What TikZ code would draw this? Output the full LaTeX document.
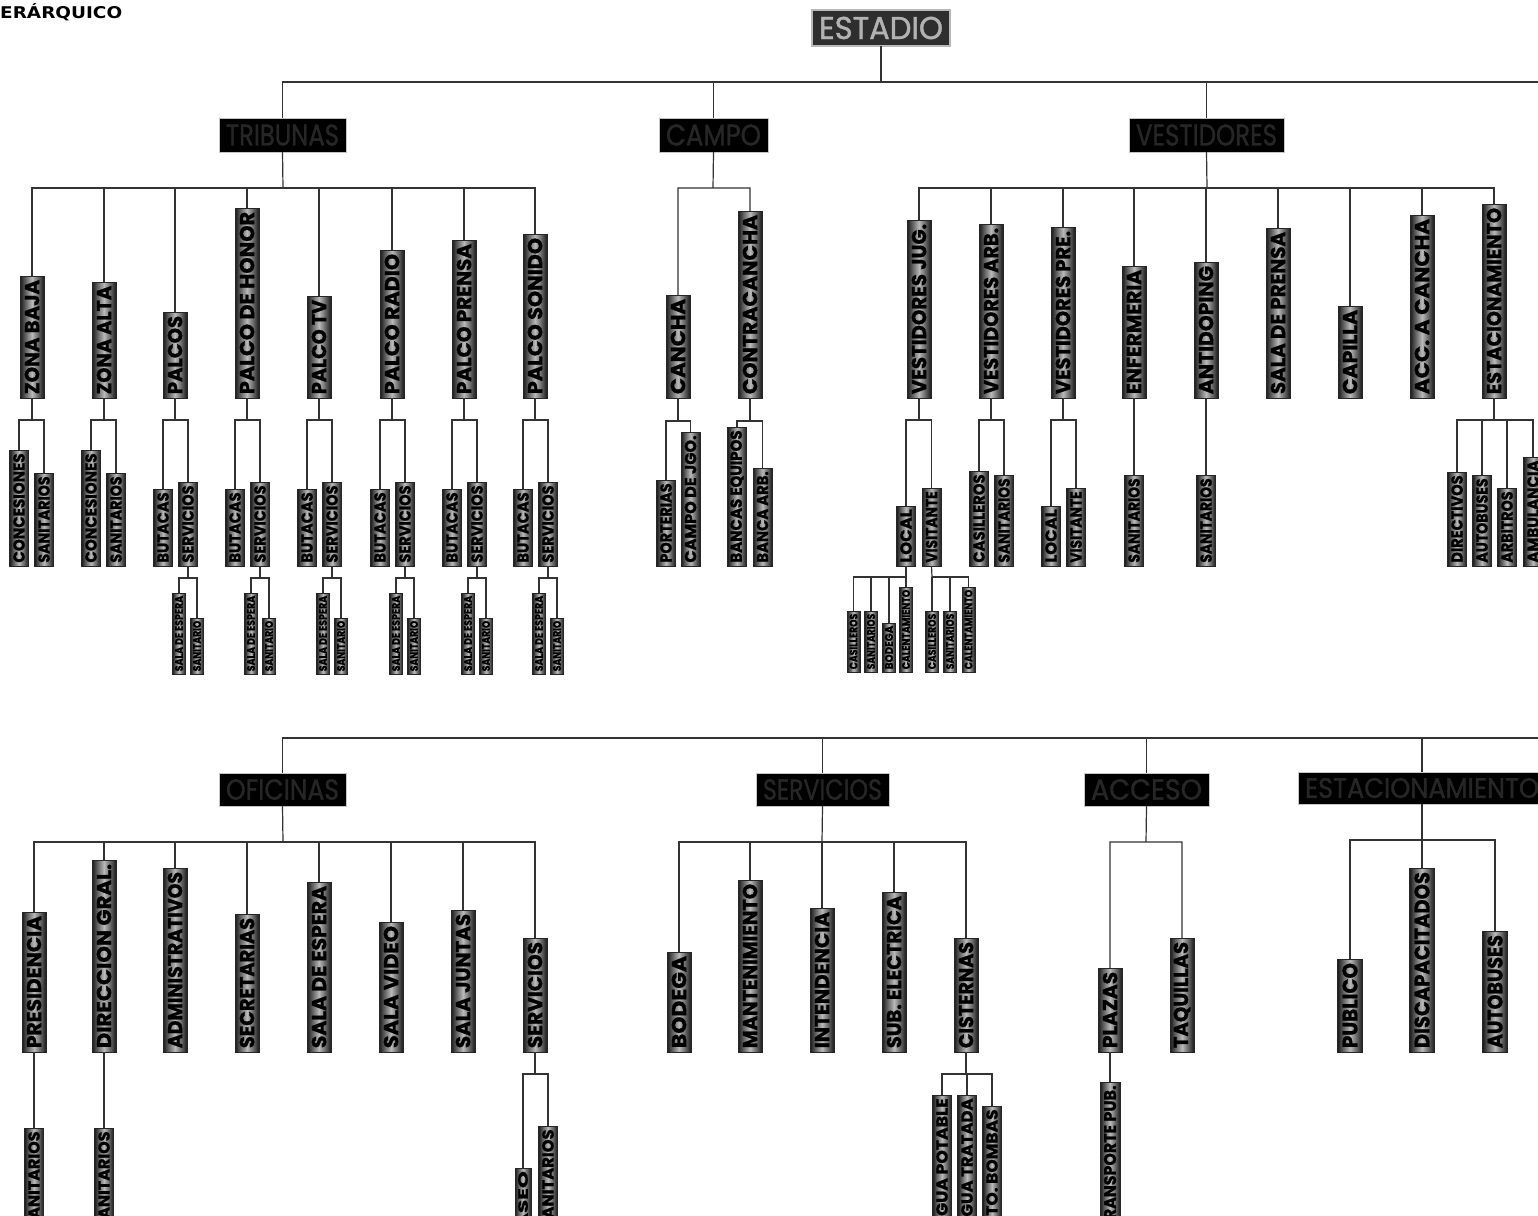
\documentclass[tikz,border=0pt]{standalone}
\usepackage{fontspec}
\setmainfont{Poppins}[FakeBold=1.2]
\newfontfamily\titlefont{DejaVu Sans}
\usepackage{graphicx}
\tikzset{
  conn/.style={draw=black!80, line width=1.2pt},
  vb/.style={rotate=90, inner sep=0pt, outer sep=0pt, draw=black!85, line width=0.6pt,
    left color=black!90, right color=black!90, middle color=gray!55, text=black, font=\bfseries},
  hb/.style={inner sep=0pt, outer sep=0pt, fill=black, draw=gray!45, line width=0.8pt, text=gray!30!black},
}
\newcommand{\vn}[6]{%
  \pgfmathsetmacro{\vncy}{(#3+#4)/2}%
  \pgfmathsetmacro{\vnlen}{#4-#3}%
  \pgfmathsetmacro{\vntl}{#4-#3-0.2*#5-3}%
  \pgfmathsetmacro{\vnth}{0.6*#5}%
  \node[vb, minimum width=\vnlen pt, minimum height=#5 pt] (#1) at (#2,\vncy) {\resizebox{\vntl pt}{\vnth pt}{#6}};%
}
\newcommand{\hn}[7][]{%
  \pgfmathsetmacro{\hncx}{(#2+#4)/2}%
  \pgfmathsetmacro{\hncy}{(#3+#5)/2}%
  \pgfmathsetmacro{\hnw}{#4-#2}%
  \pgfmathsetmacro{\hnh}{#5-#3}%
  \pgfmathsetmacro{\hntl}{#4-#2-14}%
  \pgfmathsetmacro{\hnth}{0.62*(#5-#3)}%
  \node[hb, minimum width=\hnw pt, minimum height=\hnh pt, #1] (#6) at (\hncx,\hncy) {\resizebox{\hntl pt}{\hnth pt}{#7}};%
}
\newcommand{\zonapair}[2]{%
  \pgfmathsetmacro{\zonA}{#2-13}\pgfmathsetmacro{\zonB}{#2+12}%
  \vn{#1a}{\zonA}{450}{566}{19}{CONCESIONES}%
  \vn{#1b}{\zonB}{473}{566}{19}{SANITARIOS}%
  \coordinate (#1bus) at (#2,420);%
  \draw[conn] (#1.west) -- (#1bus) (#1bus) -| (#1a.east) (#1bus) -| (#1b.east);%
}
\newcommand{\palcoset}[2]{%
  \pgfmathsetmacro{\palA}{#2-12}\pgfmathsetmacro{\palB}{#2+13}%
  \pgfmathsetmacro{\palC}{#2+4}\pgfmathsetmacro{\palD}{#2+22}%
  \vn{#1a}{\palA}{489}{566}{19}{BUTACAS}%
  \vn{#1b}{\palB}{482}{566}{19}{SERVICIOS}%
  \vn{#1c}{\palC}{593}{674}{13}{SALA DE ESPERA}%
  \vn{#1d}{\palD}{618}{674}{13}{SANITARIO}%
  \coordinate (#1bus) at (#2,420);%
  \coordinate (#1bus2) at (\palB,578);%
  \draw[conn] (#1.west) -- (#1bus) (#1bus) -| (#1a.east) (#1bus) -| (#1b.east);%
  \draw[conn] (#1b.west) -- (#1bus2) (#1bus2) -| (#1c.east) (#1bus2) -| (#1d.east);%
}
\begin{document}
\begin{tikzpicture}[x=1pt,y=-1pt]
\useasboundingbox (0,0) rectangle (1538,1215);
\fill[white] (0,0) rectangle (1538,1215);
\clip (0,0) rectangle (1538,1215);

\node[anchor=west, inner sep=0pt] (title) at (0,12.5) {\resizebox{122pt}{15pt}{\titlefont\bfseries ERÁRQUICO}};

% ---------- upper tree ----------
\hn[fill=black!82, draw=gray!55, line width=1.2pt, text=gray!60]{812}{10}{950}{46}{est}{ESTADIO}
\hn{219}{118}{346}{152}{trib}{TRIBUNAS}
\hn{659}{118}{768}{152}{campo}{CAMPO}
\hn{1129}{118}{1284}{152}{vest}{VESTIDORES}
\coordinate (eb) at (881,82);
\coordinate (eR) at (1538,82);
\draw[conn] (est.south) -- (eb) (eb) -- (eR);
\foreach \k in {trib,campo,vest} \draw[conn] (eb) -| (\k.north);

% TRIBUNAS
\vn{t1}{32}{276}{398}{24}{ZONA BAJA}
\vn{t2}{104}{282}{398}{24}{ZONA ALTA}
\vn{t3}{175}{312}{398}{24}{PALCOS}
\vn{t4}{247}{208}{398}{24}{PALCO DE HONOR}
\vn{t5}{319}{296}{398}{24}{PALCO TV}
\vn{t6}{392}{250}{398}{24}{PALCO RADIO}
\vn{t7}{464}{240}{398}{24}{PALCO PRENSA}
\vn{t8}{535}{234}{398}{24}{PALCO SONIDO}
\coordinate (tb) at (283,188);
\draw[conn] (trib.south) -- (tb);
\foreach \k in {t1,t2,t3,t4,t5,t6,t7,t8} \draw[conn] (tb) -| (\k.east);
\zonapair{t1}{32}
\zonapair{t2}{104}
\palcoset{t3}{175}
\palcoset{t4}{247}
\palcoset{t5}{319}
\palcoset{t6}{392}
\palcoset{t7}{464}
\palcoset{t8}{535}

% CAMPO
\vn{c1}{678}{295}{398}{24}{CANCHA}
\vn{c2}{750}{211}{398}{24}{CONTRACANCHA}
\coordinate (cb) at (713,188);
\draw[conn] (campo.south) -- (cb) (cb) -| (c1.east) (cb) -| (c2.east);
\vn{c1a}{666}{480}{566}{19}{PORTERIAS}
\vn{c1b}{690.5}{432}{566}{19}{CAMPO DE JGO.}
\coordinate (c1bus) at (678,421);
\draw[conn] (c1.west) -- (c1bus) (c1bus) -| (c1a.east) (c1bus) -| (c1b.east);
\vn{c2a}{737}{427}{566}{19}{BANCAS EQUIPOS}
\vn{c2b}{762.5}{468}{566}{19}{BANCA ARB.}
\coordinate (c2bus) at (750,421);
\draw[conn] (c2.west) -- (c2bus) (c2bus) -| (c2a.east) (c2bus) -| (c2b.east);

% VESTIDORES
\vn{v1}{919}{220}{398}{24}{VESTIDORES JUG.}
\vn{v2}{991}{224}{398}{24}{VESTIDORES ARB.}
\vn{v3}{1063}{227}{398}{24}{VESTIDORES PRE.}
\vn{v4}{1134}{266}{398}{24}{ENFERMERIA}
\vn{v5}{1206}{262}{398}{24}{ANTIDOPING}
\vn{v6}{1278}{228}{398}{24}{SALA DE PRENSA}
\vn{v7}{1350}{306}{398}{24}{CAPILLA}
\vn{v8}{1422}{215}{398}{24}{ACC. A CANCHA}
\vn{v9}{1494}{204}{398}{24}{ESTACIONAMIENTO}
\coordinate (vb) at (1207,188);
\draw[conn] (vest.south) -- (vb);
\foreach \k in {v1,v2,v3,v4,v5,v6,v7,v8,v9} \draw[conn] (vb) -| (\k.east);

% Vestidores jug.
\vn{v1a}{906}{506}{566}{19}{LOCAL}
\vn{v1b}{931.5}{488}{566}{19}{VISITANTE}
\coordinate (v1bus) at (919,420);
\draw[conn] (v1.west) -- (v1bus) (v1bus) -| (v1a.east) (v1bus) -| (v1b.east);
\vn{v1a1}{853.5}{611}{672}{13}{CASILLEROS}
\vn{v1a2}{871}{611}{672}{13}{SANITARIOS}
\vn{v1a3}{889}{623}{672}{13}{BODEGA}
\vn{v1a4}{906}{587}{672}{13}{CALENTAMIENTO}
\coordinate (v1abus) at (906,577);
\draw[conn] (v1a.west) -- (v1abus);
\foreach \k in {v1a1,v1a2,v1a3,v1a4} \draw[conn] (v1abus) -| (\k.east);
\vn{v1b1}{932}{611}{672}{13}{CASILLEROS}
\vn{v1b2}{950}{611}{672}{13}{SANITARIOS}
\vn{v1b3}{968.5}{587}{672}{13}{CALENTAMIENTO}
\coordinate (v1bbus) at (932,577);
\draw[conn] (v1b.west) -- (v1bbus);
\foreach \k in {v1b1,v1b2,v1b3} \draw[conn] (v1bbus) -| (\k.east);

% Vestidores arb.
\vn{v2a}{979}{471}{566}{19}{CASILLEROS}
\vn{v2b}{1004}{475}{566}{19}{SANITARIOS}
\coordinate (v2bus) at (991,420);
\draw[conn] (v2.west) -- (v2bus) (v2bus) -| (v2a.east) (v2bus) -| (v2b.east);
% Vestidores pre.
\vn{v3a}{1051}{506}{566}{19}{LOCAL}
\vn{v3b}{1076}{488}{566}{19}{VISITANTE}
\coordinate (v3bus) at (1063,420);
\draw[conn] (v3.west) -- (v3bus) (v3bus) -| (v3a.east) (v3bus) -| (v3b.east);
% Enfermeria, antidoping
\vn{v4a}{1134}{475}{566}{19}{SANITARIOS}
\draw[conn] (v4.west) -- (v4a.east);
\vn{v5a}{1206}{475}{566}{19}{SANITARIOS}
\draw[conn] (v5.west) -- (v5a.east);
% Estacionamiento
\vn{v9a}{1457}{472}{566}{19}{DIRECTIVOS}
\vn{v9b}{1482}{475}{566}{19}{AUTOBUSES}
\vn{v9c}{1507}{488}{566}{19}{ARBITROS}
\vn{v9d}{1533}{457}{566}{19}{AMBULANCIA}
\coordinate (v9bus) at (1494,420);
\draw[conn] (v9.west) -- (v9bus);
\foreach \k in {v9a,v9b,v9c,v9d} \draw[conn] (v9bus) -| (\k.east);

% ---------- lower tree ----------
\coordinate (bR) at (1538,738);
\hn{219}{773}{346}{806}{ofi}{OFICINAS}
\hn{756}{773}{889}{806}{serv}{SERVICIOS}
\hn{1084}{773}{1209}{806}{acc}{ACCESO}
\hn{1298}{772}{1546}{804}{estb}{ESTACIONAMIENTO}
\foreach \k in {ofi,serv,acc,estb} \draw[conn] (bR) -| (\k.north);

% OFICINAS
\vn{o1}{34}{912}{1052}{24}{PRESIDENCIA}
\vn{o2}{104}{860}{1052}{24}{DIRECCION GRAL.}
\vn{o3}{175}{868}{1052}{24}{ADMINISTRATIVOS}
\vn{o4}{247}{914}{1052}{24}{SECRETARIAS}
\vn{o5}{319}{882}{1052}{24}{SALA DE ESPERA}
\vn{o6}{391}{922}{1052}{24}{SALA VIDEO}
\vn{o7}{463}{910}{1052}{24}{SALA JUNTAS}
\vn{o8}{535}{938}{1052}{24}{SERVICIOS}
\coordinate (ob) at (283,842);
\draw[conn] (ofi.south) -- (ob);
\foreach \k in {o1,o2,o3,o4,o5,o6,o7,o8} \draw[conn] (ob) -| (\k.east);
\vn{o1a}{34}{1128}{1232}{19}{SANITARIOS}
\draw[conn] (o1.west) -- (o1a.east);
\vn{o2a}{104}{1128}{1232}{19}{SANITARIOS}
\draw[conn] (o2.west) -- (o2a.east);
\vn{o8a}{523}{1168}{1232}{16}{ASEO}
\vn{o8b}{548}{1126}{1232}{19}{SANITARIOS}
\coordinate (o8bus) at (535,1074);
\draw[conn] (o8.west) -- (o8bus) (o8bus) -| (o8a.east) (o8bus) -| (o8b.east);

% SERVICIOS
\vn{s1}{679}{952}{1052}{24}{BODEGA}
\vn{s2}{750}{880}{1052}{24}{MANTENIMIENTO}
\vn{s3}{822}{908}{1052}{24}{INTENDENCIA}
\vn{s4}{894}{892}{1052}{24}{SUB. ELECTRICA}
\vn{s5}{966}{938}{1052}{24}{CISTERNAS}
\coordinate (sb) at (822,842);
\draw[conn] (serv.south) -- (sb);
\foreach \k in {s1,s2,s3,s4,s5} \draw[conn] (sb) -| (\k.east);
\vn{s5a}{942}{1095}{1232}{19}{AGUA POTABLE}
\vn{s5b}{967}{1095}{1232}{19}{AGUA TRATADA}
\vn{s5c}{992}{1106}{1232}{19}{CTO. BOMBAS}
\coordinate (s5bus) at (966,1074);
\draw[conn] (s5.west) -- (s5bus);
\foreach \k in {s5a,s5b,s5c} \draw[conn] (s5bus) -| (\k.east);

% ACCESO
\vn{a1}{1110}{968}{1052}{24}{PLAZAS}
\vn{a2}{1182}{938}{1052}{24}{TAQUILLAS}
\coordinate (ab) at (1146,842);
\draw[conn] (acc.south) -- (ab) (ab) -| (a1.east) (ab) -| (a2.east);
\vn{a1a}{1110}{1082}{1232}{20}{TRANSPORTE PUB.}
\draw[conn] (a1.west) -- (a1a.east);

% ESTACIONAMIENTO
\vn{e1}{1350}{959}{1052}{25}{PUBLICO}
\vn{e2}{1422}{868}{1052}{25}{DISCAPACITADOS}
\vn{e3}{1495}{931}{1052}{25}{AUTOBUSES}
\coordinate (eb2) at (1422,840);
\draw[conn] (estb.south) -- (eb2);
\foreach \k in {e1,e2,e3} \draw[conn] (eb2) -| (\k.east);
\end{tikzpicture}
\end{document}
